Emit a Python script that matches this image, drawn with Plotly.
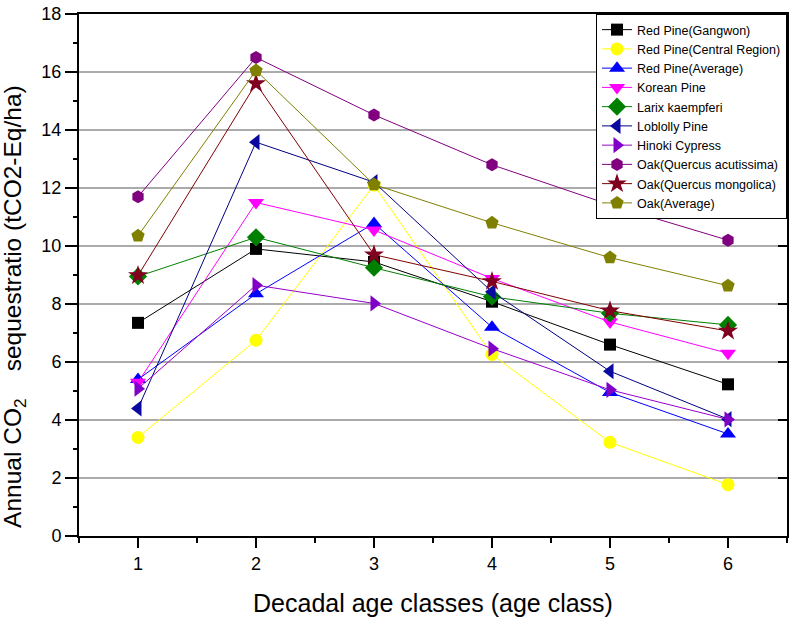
import plotly.graph_objects as go

age_classes = [1, 2, 3, 4, 5, 6]

red_pine_gangwon = [7.35, 9.9, 9.45, 8.08, 6.6, 5.23]
red_pine_central = [3.4, 6.75, 12.1, 6.26, 3.23, 1.77]
red_pine_average = [5.4, 8.35, 10.78, 7.2, 4.95, 3.52]
korean_pine = [5.3, 11.5, 10.55, 8.88, 7.38, 6.3]
larix_kaempferi = [8.95, 10.3, 9.25, 8.25, 7.68, 7.28]
loblolly_pine = [4.4, 13.58, 12.2, 8.42, 5.68, 4.03]
hinoki_cypress = [5.08, 8.65, 8.02, 6.46, 5.04, 4.02]
oak_acutissima = [11.7, 16.5, 14.52, 12.8, 11.42, 10.2]
oak_mongolica = [8.98, 15.6, 9.7, 8.78, 7.77, 7.07]
oak_average = [10.35, 16.05, 12.12, 10.8, 9.6, 8.63]

series = [
    ("Red Pine(Gangwon)", red_pine_gangwon, "square", "#000000", "#000000", 12),
    ("Red Pine(Central Region)", red_pine_central, "circle", "#ffff00", "#ffff00", 13),
    ("Red Pine(Average)", red_pine_average, "triangle-up", "#0000ff", "#0000ff", 14),
    ("Korean Pine", korean_pine, "triangle-down", "#ff00ff", "#ff00ff", 14),
    ("Larix kaempferi", larix_kaempferi, "diamond", "#008000", "#008000", 14),
    ("Loblolly Pine", loblolly_pine, "triangle-left", "#000080", "#0a0aa0", 14),
    ("Hinoki Cypress", hinoki_cypress, "triangle-right", "#9900cc", "#8000c8", 14),
    ("Oak(Quercus acutissima)", oak_acutissima, "hexagon", "#800080", "#800080", 13),
    ("Oak(Quercus mongolica)", oak_mongolica, "star", "#800000", "#800020", 15),
    ("Oak(Average)", oak_average, "pentagon", "#808000", "#808000", 14),
]

fig = go.Figure()
for name, vals, sym, lc, mc, ms in series:
    fig.add_trace(go.Scatter(
        x=age_classes, y=vals, name=name, mode="lines+markers",
        line=dict(color=lc, width=1),
        marker=dict(symbol=sym, size=ms, color=mc, line=dict(width=0)),
    ))

font_family = "Liberation Sans, Arial, sans-serif"
nb = "\u00a0"
y_title = "Annual CO<sub>2</sub>" + nb * 3 + " sequestratio (tCO2-Eq/ha)"

fig.update_layout(
    width=793, height=619,
    margin=dict(l=79, r=4, t=12, b=83),
    paper_bgcolor="white", plot_bgcolor="white",
    font=dict(family=font_family, color="black"),
    showlegend=True,
    legend=dict(
        x=1.0, xanchor="right", y=1.0, yanchor="top",
        bgcolor="white", bordercolor="black", borderwidth=1,
        font=dict(size=12.5, family=font_family, color="black"),
        tracegroupgap=0,
    ),
    xaxis=dict(
        range=[0.5, 6.5], tickmode="array", tickvals=age_classes,
        ticktext=[str(a) for a in age_classes],
        ticks="outside", ticklen=10, tickwidth=2, tickcolor="black",
        ticklabelstandoff=0,
        minor=dict(dtick=0.5, tick0=0.5, ticks="outside", ticklen=5, tickwidth=2, tickcolor="black"),
        showline=True, linewidth=2, linecolor="black", mirror=True,
        showgrid=False, zeroline=False,
        tickfont=dict(size=18, family=font_family),
        title=dict(text="Decadal age classes (age class)", font=dict(size=25, family=font_family), standoff=22),
    ),
    yaxis=dict(
        range=[0, 18], tickmode="linear", tick0=0, dtick=2,
        ticks="outside", ticklen=12, tickwidth=2, tickcolor="black",
        minor=dict(dtick=1, tick0=0, ticks="outside", ticklen=4, tickwidth=2, tickcolor="black", showgrid=False),
        showline=True, linewidth=2, linecolor="black", mirror=True,
        showgrid=True, gridcolor="#ababab", gridwidth=1.5, zeroline=False,
        tickfont=dict(size=18, family=font_family),
    ),
    yaxis2=dict(
        range=[0, 18], tickmode="linear", tick0=0, dtick=2, overlaying="y", side="right",
        ticks="inside", ticklen=9, tickwidth=2, tickcolor="black",
        showticklabels=False, showgrid=False, zeroline=False, showline=False,
    ),
    annotations=[dict(
        text=y_title, textangle=-90, showarrow=False,
        xref="paper", yref="paper", x=-0.091, y=0.44,
        xanchor="center", yanchor="middle",
        font=dict(size=24.5, family=font_family, color="black"),
    )],
)

fig.add_trace(go.Scatter(x=[None], y=[None], yaxis="y2", showlegend=False, hoverinfo="skip"))

fig.write_html("out.html", config={"displayModeBar": False},
               post_script="document.body.style.margin='0';")
